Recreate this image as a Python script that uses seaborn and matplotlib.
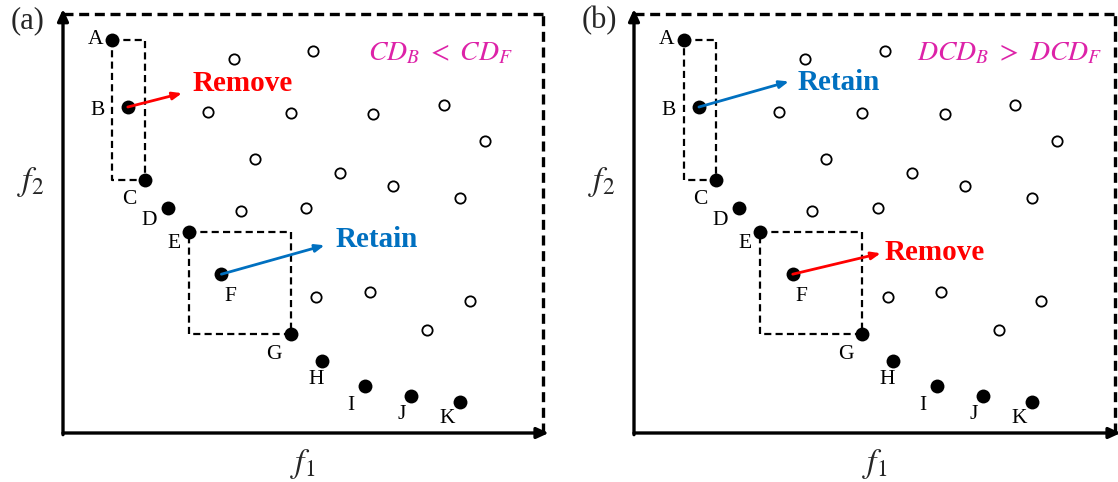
import matplotlib
matplotlib.use("Agg")
import matplotlib.pyplot as plt
import seaborn as sns
import pandas as pd

sns.set_style("white")
plt.rcParams['font.family'] = ['Liberation Serif', 'DejaVu Serif']
plt.rcParams['mathtext.fontset'] = 'stix'

# ---- data ----
front_labels = list("ABCDEFGHIJK")
front_f1 = [0.103, 0.135, 0.170, 0.219, 0.262, 0.330, 0.475, 0.539, 0.629, 0.725, 0.827]
front_f2 = [0.938, 0.778, 0.605, 0.538, 0.479, 0.379, 0.236, 0.173, 0.113, 0.089, 0.074]

other_f1 = [0.356, 0.521, 0.302, 0.475, 0.646, 0.793, 0.879, 0.400, 0.578, 0.688,
            0.827, 0.371, 0.507, 0.528, 0.639, 0.847, 0.758]
other_f2 = [0.892, 0.911, 0.767, 0.763, 0.762, 0.784, 0.697, 0.653, 0.620, 0.590,
            0.560, 0.530, 0.538, 0.325, 0.337, 0.316, 0.245]

panel_tags = ["(a)", "(b)"]
conditions = [r"$CD_B\ <\ CD_F$", r"$DCD_B\ >\ DCD_F$"]
decision_B = ["Remove", "Retain"]
decision_F = ["Retain", "Remove"]

# ---- styles ----
dec_color = {"Remove": "#FF0000", "Retain": "#0070C0"}
magenta = "#DD22A8"
label_off = {"A": (-17, 0), "B": (-30, -3), "C": (-15, -20), "D": (-19, -13),
             "E": (-15, -11), "F": (9, -22), "G": (-17, -20), "H": (-6, -19),
             "I": (-14, -20), "J": (-9, -19), "K": (-13, -17)}
arrow_tip = {("a", "B"): (0.248, 0.811), ("a", "F"): (0.545, 0.448),
             ("b", "B"): (0.322, 0.839), ("b", "F"): (0.513, 0.429)}
text_pos = {("a", "B"): (0.269, 0.835), ("a", "F"): (0.567, 0.462),
            ("b", "B"): (0.341, 0.836), ("b", "F"): (0.520, 0.431)}
cond_pos = {"a": (0.636, 0.905), "b": (0.588, 0.905)}

front_df = pd.DataFrame({"f1": front_f1, "f2": front_f2, "label": front_labels})
other_df = pd.DataFrame({"f1": other_f1, "f2": other_f2})

fig = plt.figure(figsize=(11.18, 4.82), dpi=100)
axes_rects = [[63 / 1118, 49 / 482, 480 / 1118, 419 / 482],
              [634 / 1118, 49 / 482, 481 / 1118, 419 / 482]]

for i, key in enumerate(["a", "b"]):
    ax = fig.add_axes(axes_rects[i])
    ax.set_xlim(0, 1)
    ax.set_ylim(0, 1)
    for s in ax.spines.values():
        s.set_visible(False)
    ax.set_xticks([])
    ax.set_yticks([])

    # borders: top & right dashed
    ax.plot([0, 1], [1, 1], color="black", lw=2.4, dashes=(3.0, 1.7), clip_on=False,
            dash_capstyle="butt")
    ax.plot([1, 1], [0, 1], color="black", lw=2.4, dashes=(3.0, 1.7), clip_on=False,
            dash_capstyle="butt")
    # axes arrows
    ax.annotate("", xy=(1.012, 0), xytext=(0, 0), xycoords="axes fraction",
                arrowprops=dict(arrowstyle="-|>,head_length=0.7,head_width=0.32",
                                lw=2.4, color="black", shrinkA=0, shrinkB=0),
                annotation_clip=False)
    ax.annotate("", xy=(0, 1.012), xytext=(0, -0.004), xycoords="axes fraction",
                arrowprops=dict(arrowstyle="-|>,head_length=0.7,head_width=0.32",
                                lw=2.4, color="black", shrinkA=0, shrinkB=0),
                annotation_clip=False)

    # dashed rectangles (A..C and E..G)
    fd = front_df.set_index("label")
    for p, q in [("A", "C"), ("E", "G")]:
        x0, y0 = fd.loc[p, "f1"], fd.loc[p, "f2"]
        x1, y1 = fd.loc[q, "f1"], fd.loc[q, "f2"]
        ax.plot([x0, x1, x1, x0, x0], [y0, y0, y1, y1, y0], color="black", lw=1.6,
                dashes=(3.2, 1.9), zorder=2)

    sns.scatterplot(data=other_df, x="f1", y="f2", ax=ax, s=55, marker="o",
                    facecolor="white", edgecolor="black", linewidth=1.3, zorder=3)
    sns.scatterplot(data=front_df, x="f1", y="f2", ax=ax, s=100, color="black",
                    edgecolor="black", linewidth=0, zorder=4)
    ax.set_xlabel("")
    ax.set_ylabel("")

    for lab, x, y in zip(front_labels, front_f1, front_f2):
        dx, dy = label_off[lab]
        ax.annotate(lab, (x, y), xytext=(dx * 0.72, dy * 0.72), textcoords="offset points",
                    ha="center", va="center", fontsize=15.5, color="black")

    for pt, dec in [("B", decision_B[i]), ("F", decision_F[i])]:
        x, y = fd.loc[pt, "f1"], fd.loc[pt, "f2"]
        tx, ty = arrow_tip[(key, pt)]
        ax.annotate("", xy=(tx, ty), xytext=(x, y),
                    arrowprops=dict(arrowstyle="-|>,head_length=0.55,head_width=0.22",
                                    lw=2, color=dec_color[dec], shrinkA=0, shrinkB=0),
                    zorder=5)
        px, py = text_pos[(key, pt)]
        ax.text(px, py, dec, color=dec_color[dec], fontsize=21, fontweight="bold",
                ha="left", va="center")

    cx, cy = cond_pos[key]
    ax.text(cx, cy, conditions[i], color=magenta, fontsize=20, ha="left", va="center")

    ax.text(0.5, -0.075, r"$f_1$", transform=ax.transAxes, fontsize=24,
            ha="center", va="center")
    ax.text(-0.068, 0.6, r"$f_2$", transform=ax.transAxes, fontsize=24,
            ha="center", va="center")
    fig.text(axes_rects[i][0] - 35 / 1118, 1 - 21 / 482, panel_tags[i], fontsize=22,
             ha="center", va="center")

fig.savefig("out.png", dpi=100)
